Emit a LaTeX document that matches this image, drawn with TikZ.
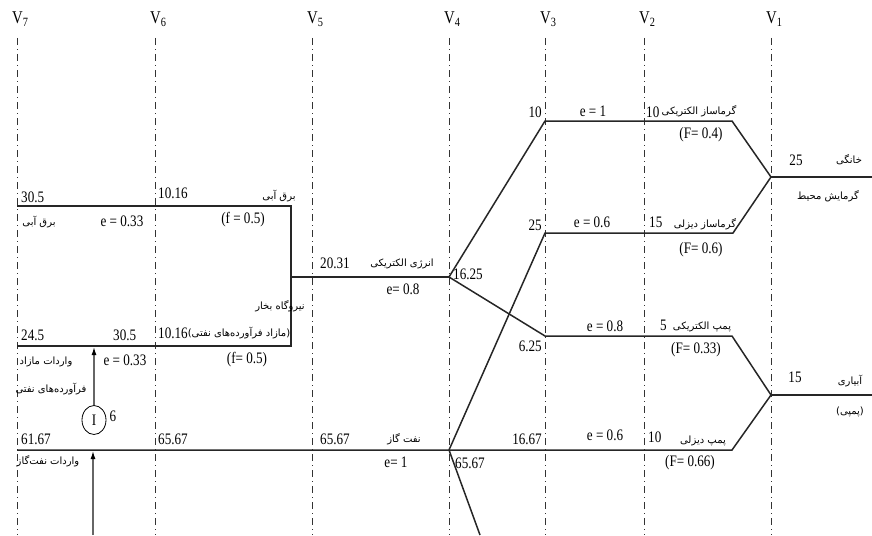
\documentclass[tikz,border=0pt]{standalone}
\usepackage{fontspec}
\setmainfont{Liberation Serif}[FakeStretch=0.82]
\newfontfamily\farsi[Script=Arabic]{DejaVu Sans}
\TeXXeTstate=1
\usetikzlibrary{arrows.meta,shapes.geometric}
\newcommand{\rl}[1]{\beginR#1\endR}

\begin{document}
\begin{tikzpicture}[x=1pt, y=-1pt,
  every node/.style={inner sep=0pt, font=\fontsize{16}{18}\selectfont},
  axis/.style={draw=black!80, line width=0.8pt, dash pattern=on 7pt off 4pt on 1pt off 4pt},
  flow/.style={draw=black!85, line width=1.5pt, line join=miter},
  feed/.style={draw=black!60, line width=1.3pt, -{Latex[length=8pt,width=5pt,black]}},
  fa/.style={font=\farsi\fontsize{10}{12}\selectfont},
  vlab/.style={font=\fontsize{18}{20}\selectfont, anchor=base west}]
\useasboundingbox (0,0) rectangle (872,535);
\foreach \n/\x in {7/17,6/155,5/312,4/449,3/545,2/644,1/771} {
  \node[vlab] (v\n) at (\x-5,24) {V\textsubscript{\n}};
  \coordinate (t\n) at (\x,38); \coordinate (b\n) at (\x,535);
  \draw[axis] (t\n) -- (b\n);}
\coordinate (hA) at (17,206);  \coordinate (hB) at (291,206);
\coordinate (sA) at (17,346);  \coordinate (sB) at (291,346);
\coordinate (mid) at (291,277); \coordinate (elec) at (449,277);
\coordinate (gL) at (17,450);   \coordinate (gas) at (449,450);
\coordinate (gD) at (480,535);
\coordinate (eh) at (545,121);  \coordinate (ehR) at (732,121);
\coordinate (dh) at (545,233);  \coordinate (dhR) at (733,233);
\coordinate (ep) at (545,336);  \coordinate (epR) at (732,336);
\coordinate (dpR) at (732,450);
\coordinate (heat) at (771,177); \coordinate (heatR) at (872,177);
\coordinate (pump) at (771,395); \coordinate (pumpR) at (872,395);
\coordinate (i1) at (94,347); \coordinate (i2) at (93,451); \coordinate (i0) at (93,535);
\draw[flow] (hA) -- (hB) -- (sB) -- (sA);
\draw[flow] (mid) -- (elec);
\draw[flow] (elec) -- (eh) -- (ehR) -- (heat);
\draw[flow] (gas) -- (dh) -- (dhR) -- (heat);
\draw[flow] (elec) -- (ep) -- (epR) -- (pump);
\draw[flow] (gL) -- (gas) -- (dpR) -- (pump);
\draw[flow] (gas) -- (gD);
\draw[flow] (heat) -- (heatR); \draw[flow] (pump) -- (pumpR);
\node[draw, ellipse, line width=0.8pt, minimum width=24pt, minimum height=29pt] (imp) at (94,420) {I};
\node (n6) at (113,416) {6};
\draw[feed] (imp) -- (i1);
\draw[feed] (i0) -- (i2);
\node[anchor=base west] (n305a) at (21,202) {30.5};
\node[anchor=base west] (n1016a) at (158,198) {10.16};
\node[anchor=base west] (n245) at (21,340) {24.5};
\node[anchor=base west] (n305b) at (113,340) {30.5};
\node[anchor=base west] (n1016b) at (158,338) {10.16};
\node[anchor=base west] (n6167) at (21,444) {61.67};
\node[anchor=base west] (n6567a) at (158,444) {65.67};
\node[anchor=base west] (n6567b) at (320,444) {65.67};
\node[anchor=base west] (n2031) at (320,268) {20.31};
\node[anchor=west] (n1625) at (453,274) {16.25};
\node[anchor=west] (n6567c) at (455,463) {65.67};
\node[anchor=base east] (n25a) at (542,230) {25};
\node[anchor=east] (n625) at (542,346) {6.25};
\node[anchor=base east] (n10a) at (542,117) {10};
\node[anchor=base east] (n1667) at (542,444) {16.67};
\node[anchor=base west] (n10b) at (646,117) {10};
\node[anchor=base west] (n15a) at (649,227) {15};
\node[anchor=base west] (n5) at (660,330) {5};
\node[anchor=base west] (n10c) at (648,442) {10};
\node (n25b) at (796,160) {25};
\node (n15b) at (795,377) {15};
\node (ehyd) at (122,221) {e = 0.33};
\node (esteam) at (125,360) {e = 0.33};
\node (eelec) at (403,289) {e= 0.8};
\node (egas) at (396,462) {e= 1};
\node (eeh) at (593,111) {e = 1};
\node (edh) at (592,222) {e = 0.6};
\node (eep) at (605,326) {e = 0.8};
\node (edp) at (605,435) {e = 0.6};
\node (fhyd) at (243,220) {(f = 0.5)};
\node (fsteam) at (247,360) {(f= 0.5)};
\node (feh) at (701,135) {(F= 0.4)};
\node (fdh) at (701,250) {(F= 0.6)};
\node (fep) at (696,350) {(F= 0.33)};
\node (fdp) at (690,463) {(F= 0.66)};
\node[fa] (hydR) at (279,196) {\rl{برق آبی}};
\node[fa] (hydL) at (39,222) {\rl{برق آبی}};
\node[fa] (steam) at (280,306) {\rl{نیروگاه بخار}};
\node[fa] (surplus) at (239,333) {\rl{(مازاد فرآورده^^^^200cهای نفتی)}};
\node[fa] (imp1) at (46,362) {\rl{واردات مازاد}};
\node[fa] (imp2) at (51,389) {\rl{فرآورده^^^^200cهای نفتی}};
\node[fa] (impg) at (48,461) {\rl{واردات نفت^^^^200cگاز}};
\node[fa] (gasoil) at (404,439) {\rl{نفت گاز}};
\node[fa] (elecen) at (402,264) {\rl{انرژی الکتریکی}};
\node[fa] (lehtr) at (699,111) {\rl{گرماساز الکتریکی}};
\node[fa] (ldhtr) at (705,224) {\rl{گرماساز دیزلی}};
\node[fa] (lepmp) at (702,327) {\rl{پمپ الکتریکی}};
\node[fa] (ldpmp) at (703,441) {\rl{پمپ دیزلی}};
\node[fa] (home) at (849,160) {\rl{خانگی}};
\node[fa] (space) at (828,196) {\rl{گرمایش محیط}};
\node[fa] (irrig) at (850,381) {\rl{آبیاری}};
\node[fa] (pumped) at (850,412) {\rl{(پمپی)}};
\end{tikzpicture}
\end{document}
